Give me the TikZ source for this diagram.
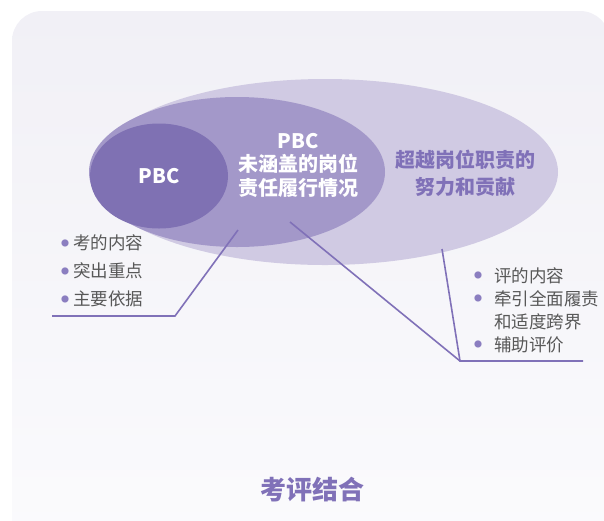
\documentclass[tikz,border=0pt]{standalone}
\usepackage{fontspec}
\setmainfont{Noto Sans CJK SC}
\usetikzlibrary{positioning,shapes.geometric}

\definecolor{bgtop}{HTML}{F1F0F6}
\definecolor{bgbot}{HTML}{FBFBFD}
\definecolor{outerc}{HTML}{D0CAE3}
\definecolor{midc}{HTML}{A398C9}
\definecolor{innerc}{HTML}{7F71B3}
\definecolor{linec}{HTML}{8071B8}
\definecolor{bulc}{HTML}{8B7EC0}
\definecolor{greyc}{HTML}{585858}

\newcommand\bulmark{\textcolor{bulc}{\fontsize{8}{8}\selectfont\raisebox{3.5pt}{●}}}
\newcommand\dotl{\makebox[12pt][l]{\bulmark}}
\newcommand\dotr{\makebox[20pt][l]{\bulmark}}

\begin{document}
\begin{tikzpicture}[x=1pt, y=-1pt,
  blob/.style={ellipse, inner sep=0pt},
  inside/.style={text=white, font=\bfseries\fontsize{20}{23.5}\selectfont, align=center},
  items/.style={text=greyc, font=\fontsize{17.5}{28}\selectfont, align=left},
  link/.style={draw=linec, line width=1.6pt}]
  \useasboundingbox (0,0) rectangle (604,520);
  \shade[top color=bgtop, bottom color=bgbot, rounded corners=30pt] (12,11) rectangle (610,550);

  % the three nested ellipses
  \node[blob, fill=outerc, minimum width=466pt, minimum height=186pt] (outer) at (325,172) {};
  \node[blob, fill=midc, minimum width=296pt, minimum height=150pt] (middle) at (237,172) {};
  \node[blob, fill=innerc, minimum width=138pt, minimum height=105pt, inside] (inner) at (159,176) {PBC};

  \node[inside] (midtext) at (298,165) {PBC\\未涵盖的岗位\\责任履行情况};
  \node[text=linec, font=\bfseries\fontsize{20}{27}\selectfont, align=center] (outtext) at (465,173) {超越岗位职责的\\努力和贡献};

  % lists
  \node[items] (kao) at (102,271) {\dotl 考的内容\\\dotl 突出重点\\\dotl 主要依据};
  \node[items, font=\fontsize{17.5}{23}\selectfont] (ping) at (536.5,310)
    {\dotr 评的内容\\\dotr 牵引全面履责\\\hspace*{20pt}和适度跨界\\\dotr 辅助评价};

  \coordinate (ls) at (238,230);
  \coordinate (lk) at (175,316);
  \coordinate (le) at (52,316);
  \coordinate (rs1) at (442,249);
  \coordinate (rs2) at (290,222);
  \coordinate (rk) at (460,361);
  \coordinate (re) at (583,361);
  \draw[link] (ls) -- (lk) -- (le);
  \draw[link] (rs1) -- (rk) -- (re);
  \draw[link] (rs2) -- (rk);

  \node[text=linec, font=\bfseries\fontsize{26}{30}\selectfont] (title) at (312,490) {考评结合};
\end{tikzpicture}
\end{document}
